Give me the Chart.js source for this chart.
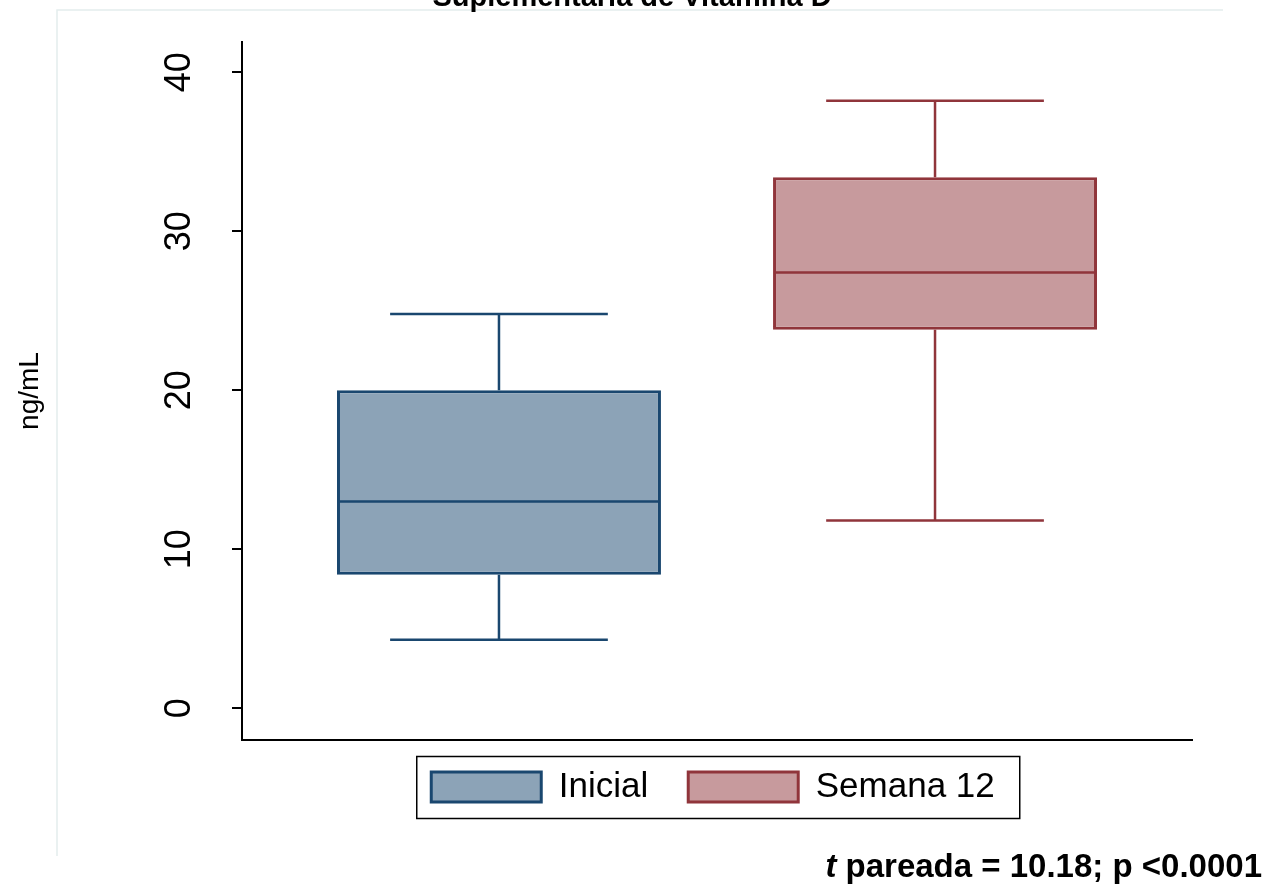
<!DOCTYPE html>
<html lang="pt">
<head>
<meta charset="utf-8">
<title>Vitamina D</title>
<script src="https://cdn.jsdelivr.net/npm/chart.js@4.4.1/dist/chart.umd.min.js"></script>
<style>
  html, body { margin: 0; padding: 0; background: #ffffff; }
  canvas { display: block; }
</style>
</head>
<body>
<canvas id="chart" width="1276" height="884"></canvas>
<script>
// Serum 25(OH)D, ng/mL: box-plot summary per time point
const groups       = ['Inicial', 'Semana 12'];
const whiskerLow   = [4.3, 11.8];
const quartile1    = [8.4, 23.8];
const median       = [13.0, 27.4];
const quartile3    = [20.0, 33.4];
const whiskerHigh  = [24.8, 38.2];
const yTickValues  = [0, 10, 20, 30, 40];

const titleText = 'Suplementaria de Vitamina D';
const noteItalic = 't';
const noteText = ' pareada = 10.18; p <0.0001';

const lineColors = ['#1a476f', '#90353b'];
const fillColors = ['#8ca3b7', '#c79a9d'];

const FONT = '"Liberation Sans", Arial, Helvetica, sans-serif';

// Faint outer frame (top and left edges) and the heading clipped at the top edge
const framePlugin = {
  id: 'frame',
  afterLayout(chart) {
    // pull the legend row up, closer to the x axis, and centre it under the boxes
    const lg = chart.legend;
    if (lg) {
      lg.top -= 10.5; lg.bottom -= 10.5;
      lg.left -= 4; lg.right -= 4;
    }
  },
  beforeDraw(chart) {
    const ctx = chart.ctx;
    ctx.save();
    ctx.strokeStyle = '#e4eded';
    ctx.lineWidth = 1.5;
    ctx.beginPath();
    ctx.moveTo(57, 856);
    ctx.lineTo(57, 10);
    ctx.lineTo(1223, 10);
    ctx.stroke();
    ctx.fillStyle = '#000';
    ctx.font = 'bold 29px ' + FONT;
    ctx.textAlign = 'center';
    ctx.textBaseline = 'alphabetic';
    ctx.fillText(titleText, 632, 6);
    ctx.restore();
  }
};

// Median lines and whiskers, positioned by the bars and the y scale
const whiskerPlugin = {
  id: 'whiskers',
  afterDatasetsDraw(chart) {
    const ctx = chart.ctx;
    const y = chart.scales.y;
    chart.data.datasets.forEach((ds, i) => {
      const bar = chart.getDatasetMeta(i).data[0];
      if (!bar) return;
      const half = bar.width / 2;
      const cap = bar.width * 0.336;
      const x = bar.x;
      const pLo = y.getPixelForValue(whiskerLow[i]);
      const pQ1 = y.getPixelForValue(quartile1[i]);
      const pMed = y.getPixelForValue(median[i]);
      const pQ3 = y.getPixelForValue(quartile3[i]);
      const pHi = y.getPixelForValue(whiskerHigh[i]);
      ctx.save();
      ctx.strokeStyle = lineColors[i];
      ctx.lineWidth = 2.5;
      ctx.beginPath();
      // median
      ctx.moveTo(x - half + 1.5, pMed);
      ctx.lineTo(x + half - 1.5, pMed);
      // upper whisker and cap
      ctx.moveTo(x, pQ3);
      ctx.lineTo(x, pHi);
      ctx.moveTo(x - cap, pHi);
      ctx.lineTo(x + cap, pHi);
      // lower whisker and cap
      ctx.moveTo(x, pQ1);
      ctx.lineTo(x, pLo);
      ctx.moveTo(x - cap, pLo);
      ctx.lineTo(x + cap, pLo);
      ctx.stroke();
      ctx.restore();
    });
  }
};

// Border around the legend, and the test note in the lower right corner
const notePlugin = {
  id: 'note',
  afterDraw(chart) {
    const ctx = chart.ctx;
    const lg = chart.legend;
    if (lg && lg.legendHitBoxes && lg.legendHitBoxes.length) {
      const hb = lg.legendHitBoxes;
      const first = hb[0];
      const last = hb[hb.length - 1];
      const x0 = first.left - 14.5;
      const x1 = last.left + last.width + 25;
      const y0 = first.top - 13;
      ctx.save();
      ctx.strokeStyle = '#000';
      ctx.lineWidth = 1.5;
      ctx.strokeRect(x0, y0, x1 - x0, 62);
      ctx.restore();
    }
    ctx.save();
    ctx.fillStyle = '#000';
    ctx.textBaseline = 'alphabetic';
    const right = 1262, base = 877;
    ctx.font = 'bold 33px ' + FONT;
    const wRest = ctx.measureText(noteText).width;
    ctx.textAlign = 'right';
    ctx.fillText(noteText, right, base);
    ctx.font = 'italic bold 33px ' + FONT;
    ctx.fillText(noteItalic, right - wRest, base);
    ctx.restore();
  }
};

Chart.defaults.font.family = FONT;
Chart.defaults.color = '#000';

new Chart(document.getElementById('chart'), {
  type: 'bar',
  data: {
    labels: [''],
    datasets: groups.map((g, i) => ({
      label: g,
      data: [[quartile1[i], quartile3[i]]],
      backgroundColor: fillColors[i],
      borderColor: lineColors[i],
      borderWidth: 3,
      borderSkipped: false,
      categoryPercentage: 0.918,
      barPercentage: 0.743
    }))
  },
  options: {
    responsive: false,
    animation: false,
    devicePixelRatio: 1,
    layout: { padding: { left: 0, right: 84, top: 42, bottom: 59 } },
    plugins: {
      title: { display: false },
      legend: {
        display: true,
        position: 'bottom',
        fullSize: false,
        labels: {
          boxWidth: 110,
          boxHeight: 30,
          padding: 40,
          color: '#000',
          font: { size: 35, family: FONT }
        }
      },
      tooltip: { enabled: false }
    },
    scales: {
      x: {
        display: true,
        grid: { display: false },
        border: { display: true, color: '#000', width: 2 },
        ticks: { display: false },
        afterFit(scale) { scale.height = 0; }
      },
      y: {
        min: -2,
        max: 41.9,
        afterBuildTicks(scale) {
          scale.ticks = yTickValues.map(v => ({ value: v }));
        },
        afterFit(scale) {
          scale.width = 242;
          scale.paddingTop = 0;
          scale.paddingBottom = 0;
        },
        grid: {
          display: true,
          drawOnChartArea: false,
          drawTicks: true,
          tickLength: 10,
          color: '#000',
          lineWidth: 2
        },
        border: { display: true, color: '#000', width: 2 },
        ticks: {
          minRotation: 90,
          maxRotation: 90,
          crossAlign: 'center',
          padding: 32,
          color: '#000',
          font: { size: 36, family: FONT }
        },
        title: {
          display: true,
          text: 'ng/mL',
          color: '#000',
          font: { size: 28, family: FONT },
          padding: { top: 13, bottom: 0 }
        }
      }
    }
  },
  plugins: [framePlugin, whiskerPlugin, notePlugin]
});
</script>
</body>
</html>
